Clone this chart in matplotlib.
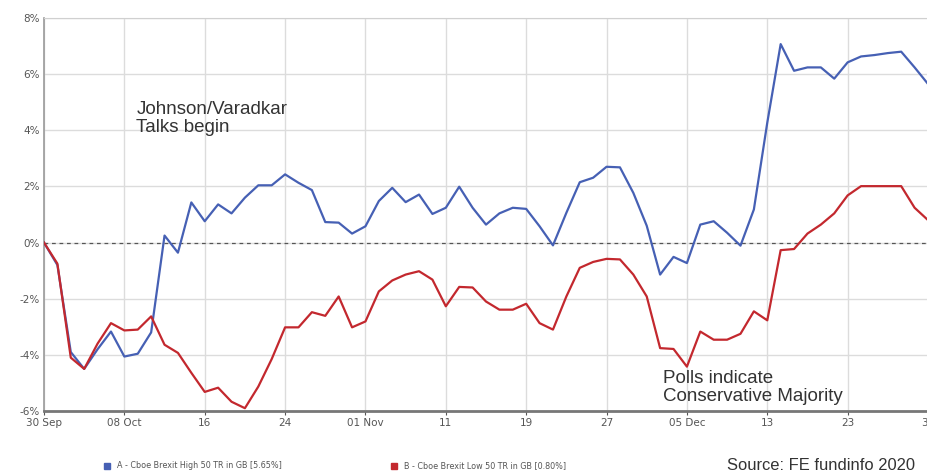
import matplotlib
matplotlib.use("Agg")
import matplotlib.pyplot as plt
from matplotlib.patches import Rectangle

# ---- data (percent return, one point per weekday) ----
series_a_name = "A - Cboe Brexit High 50 TR in GB [5.65%]"
series_b_name = "B - Cboe Brexit Low 50 TR in GB [0.80%]"

high_50 = [0.0, -0.8, -3.9, -4.5, -3.8, -3.17, -4.06, -3.96, -3.2, 0.25,
           -0.36, 1.43, 0.76, 1.36, 1.04, 1.6, 2.04, 2.04, 2.43, 2.13,
           1.87, 0.73, 0.71, 0.32, 0.58, 1.48, 1.95, 1.44, 1.71, 1.02,
           1.24, 1.99, 1.24, 0.64, 1.04, 1.24, 1.2, 0.58, -0.1, 1.06,
           2.15, 2.31, 2.7, 2.68, 1.77, 0.6, -1.14, -0.51, -0.73, 0.64,
           0.76, 0.35, -0.11, 1.18, 4.27, 7.07, 6.12, 6.24, 6.24, 5.84,
           6.42, 6.63, 6.68, 6.75, 6.8, 6.24, 5.65]

low_50 = [0.0, -0.75, -4.1, -4.5, -3.6, -2.87, -3.13, -3.1, -2.63, -3.64,
          -3.93, -4.64, -5.32, -5.17, -5.67, -5.9, -5.13, -4.15, -3.02, -3.02,
          -2.48, -2.61, -1.92, -3.02, -2.81, -1.74, -1.35, -1.14, -1.02, -1.32,
          -2.27, -1.58, -1.6, -2.1, -2.39, -2.39, -2.18, -2.87, -3.1, -1.92,
          -0.9, -0.69, -0.58, -0.6, -1.14, -1.92, -3.76, -3.79, -4.42, -3.17,
          -3.46, -3.46, -3.25, -2.45, -2.77, -0.27, -0.23, 0.32, 0.64, 1.04,
          1.68, 2.01, 2.01, 2.01, 2.01, 1.24, 0.8]

tick_positions = [0, 6, 12, 18, 24, 30, 36, 42, 48, 54, 60, 66]
tick_labels = ["30 Sep", "08 Oct", "16", "24", "01 Nov", "11", "19", "27",
               "05 Dec", "13", "23", "31"]
y_ticks = [-6, -4, -2, 0, 2, 4, 6, 8]
y_labels = ["-6%", "-4%", "-2%", "0%", "2%", "4%", "6%", "8%"]

blue = "#4660b4"
red = "#c3282e"
grid_c = "#dcdcdc"
text_c = "#555555"

fig = plt.figure(figsize=(9.28, 4.76), dpi=100)
ax = fig.add_axes([44/928, 1 - 411/476, 1 - 44/928, (411 - 18)/476])

x = list(range(len(high_50)))
ax.plot(x, high_50, color=blue, lw=1.6, zorder=3)
ax.plot(x, low_50, color=red, lw=1.6, zorder=3)
ax.axhline(0, color="#555555", lw=0.9, ls=(0, (3, 3)), zorder=2)

ax.set_xlim(0, 66)
ax.set_ylim(-6, 8)
ax.set_xticks(tick_positions)
ax.set_xticklabels(tick_labels)
ax.set_yticks(y_ticks)
ax.set_yticklabels(y_labels)
ax.grid(True, color=grid_c, lw=1.0, zorder=0)
ax.tick_params(axis="both", labelsize=7.5, colors=text_c, length=3, width=0.8)
ax.tick_params(axis="x", pad=2)
ax.tick_params(axis="y", pad=3, length=0)
for lab in ax.get_xticklabels() + ax.get_yticklabels():
    lab.set_color(text_c)

ax.spines["top"].set_color("#d0d0d0")
ax.spines["right"].set_visible(False)
ax.spines["left"].set_color("#9a9a9a")
ax.spines["left"].set_linewidth(1.2)
ax.spines["bottom"].set_color("#777777")
ax.spines["bottom"].set_linewidth(2.0)

ax.text(6.9, 5.05, "Johnson/Varadkar\nTalks begin", fontsize=13.5, color="#333333",
        family="Liberation Sans", va="top", ha="left", linespacing=1.12)
ax.text(46.2, -4.55, "Polls indicate\nConservative Majority", fontsize=13.5,
        color="#333333", family="Liberation Sans", va="top", ha="left",
        linespacing=1.05)

# legend row
fig.patches.append(Rectangle((104/928, 1 - 469/476), 6/928, 6/476,
                             transform=fig.transFigure, color=blue))
fig.text(117/928, 1 - 466/476, series_a_name, fontsize=5.8, color=text_c,
         va="center", ha="left")
fig.patches.append(Rectangle((391/928, 1 - 469/476), 6/928, 6/476,
                             transform=fig.transFigure, color=red))
fig.text(404/928, 1 - 466/476, series_b_name, fontsize=5.8, color=text_c,
         va="center", ha="left")
fig.text(727/928, 1 - 466/476, "Source: FE fundinfo 2020", fontsize=11.9,
         color="#333333", va="center", ha="left", family="Liberation Sans")

fig.savefig("out.png", dpi=100)
